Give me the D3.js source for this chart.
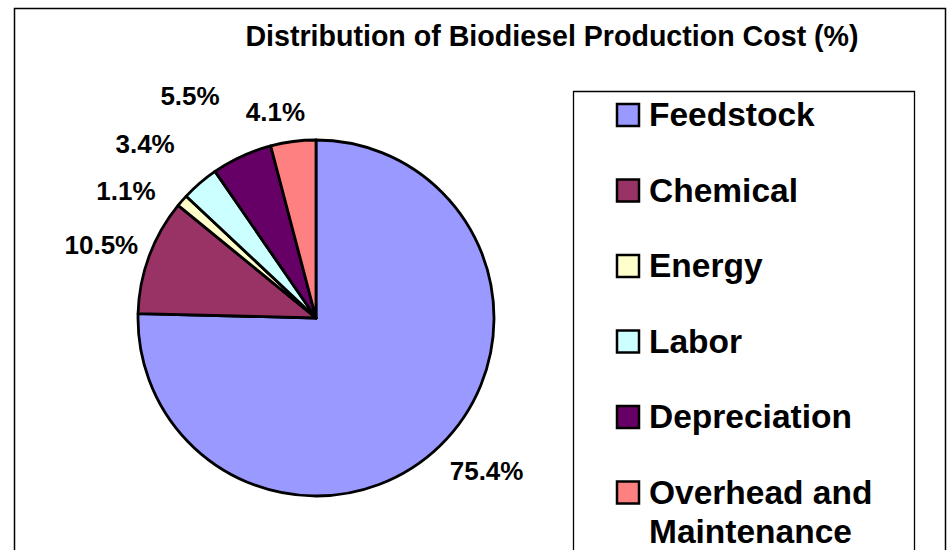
<!DOCTYPE html>
<html>
<head>
<meta charset="utf-8">
<script src="https://cdn.jsdelivr.net/npm/d3@7"></script>
<style>
  body { margin: 0; background: #fff; }
  text { font-family: "Liberation Sans", Arial, sans-serif; font-weight: bold; fill: #000; }
</style>
</head>
<body>
<div class="chart"></div>
<script>
/* data */
var categories = ["Feedstock", "Chemical", "Energy", "Labor", "Depreciation", "Overhead and Maintenance"];
var shares = [75.4, 10.5, 1.1, 3.4, 5.5, 4.1];
var valueLabels = ["75.4%", "10.5%", "1.1%", "3.4%", "5.5%", "4.1%"];
var colours = ["#9999FF", "#993366", "#FFFFCC", "#CCFFFF", "#660066", "#FF8080"];
var title = "Distribution of Biodiesel Production Cost (%)";

/* dimensions */
var width = 949;
var height = 550;
var cx = 316, cy = 318, radius = 178;

/*labels were hand placed in the original, nudge them off the centroid*/
var labelNudge = [[10, -12], [1, 7], [-17, 24], [-21, 0], [-30, -13], [-11, 22]];

var data = categories.map(function(c, i){
  return {name: c, value: shares[i], label: valueLabels[i], colour: colours[i], nudge: labelNudge[i]};
});

var svg = d3.select(".chart").append("svg")
  .attr("width", width)
  .attr("height", height);

// outer frame (bottom is cut off in the reference)
svg.append("path")
  .attr("d", "M14.5," + height + " L14.5,8.5 L945.5,8.5 L945.5," + height)
  .attr("fill", "none")
  .attr("stroke", "#000")
  .attr("stroke-width", 1.5);

svg.append("text")
  .attr("x", 552)
  .attr("y", 46)
  .attr("text-anchor", "middle")
  .style("font-size", "28.6px")
  .text(title);

// pie
var pie = d3.pie()
  .sort(null)
  .value(function(d){ return d.value; });

var arc = d3.arc()
  .innerRadius(0)
  .outerRadius(radius);

var labelArc = d3.arc()
  .innerRadius(230)
  .outerRadius(230);

var g = svg.append("g")
  .attr("transform", "translate(" + cx + "," + cy + ")");

var slices = g.selectAll(".slice")
  .data(pie(data))
  .enter().append("g")
  .attr("class", "slice");

slices.append("path")
  .attr("d", arc)
  .attr("fill", function(d){ return d.data.colour; })
  .attr("stroke", "#000")
  .attr("stroke-width", 2.8)
  .attr("stroke-linejoin", "round");

slices.append("text")
  .attr("transform", function(d){
    var c = labelArc.centroid(d);
    return "translate(" + (c[0] + d.data.nudge[0]) + "," + (c[1] + d.data.nudge[1]) + ")";
  })
  .attr("text-anchor", "middle")
  .attr("dy", "0.36em")
  .style("font-size", "26px")
  .text(function(d){ return d.data.label; });

// legend
svg.append("path")
  .attr("d", "M573.5," + height + " L573.5,91.5 L914.5,91.5 L914.5," + height)
  .attr("fill", "none")
  .attr("stroke", "#000")
  .attr("stroke-width", 1.3);

var rowY = d3.scaleLinear()
  .domain([0, 1])
  .range([115, 190.5]);

var legend = svg.selectAll(".legend")
  .data(data)
  .enter().append("g")
  .attr("class", "legend")
  .attr("transform", function(d, i){ return "translate(616," + rowY(i) + ")"; });

legend.append("rect")
  .attr("x", 1)
  .attr("y", -11)
  .attr("width", 22)
  .attr("height", 22)
  .attr("fill", function(d){ return d.colour; })
  .attr("stroke", "#000")
  .attr("stroke-width", 2.5);

legend.append("text")
  .attr("x", 33)
  .style("font-size", "33.5px")
  .each(function(d){
    var t = d3.select(this);
    var lines = d.name == "Overhead and Maintenance" ? ["Overhead and", "Maintenance"] : [d.name];
    lines.forEach(function(l, k){
      t.append("tspan")
        .attr("x", 33)
        .attr("dy", k == 0 ? "0.34em" : "1.17em")
        .text(l);
    });
  });
</script>
</body>
</html>
